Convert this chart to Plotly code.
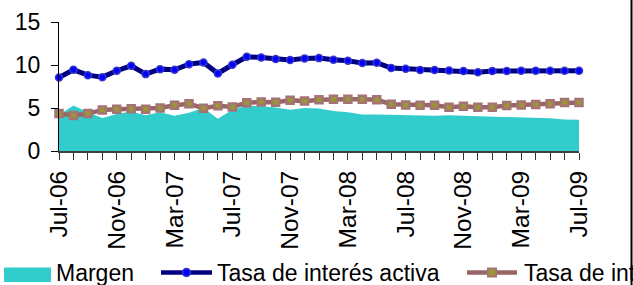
import plotly.graph_objects as go

months = ["Jul-06", "Aug-06", "Sep-06", "Oct-06", "Nov-06", "Dec-06",
          "Jan-07", "Feb-07", "Mar-07", "Apr-07", "May-07", "Jun-07",
          "Jul-07", "Aug-07", "Sep-07", "Oct-07", "Nov-07", "Dec-07",
          "Jan-08", "Feb-08", "Mar-08", "Apr-08", "May-08", "Jun-08",
          "Jul-08", "Aug-08", "Sep-08", "Oct-08", "Nov-08", "Dec-08",
          "Jan-09", "Feb-09", "Mar-09", "Apr-09", "May-09", "Jun-09",
          "Jul-09"]

margen = [4.2, 5.3, 4.5, 3.85, 4.3, 4.6, 4.15, 4.5, 4.1, 4.45, 5.0, 3.75,
          4.8, 5.25, 5.2, 5.05, 4.8, 5.0, 4.95, 4.65, 4.5, 4.25, 4.25, 4.2,
          4.2, 4.15, 4.1, 4.15, 4.1, 4.05, 4.0, 4.0, 3.97, 3.93, 3.8, 3.65, 3.62]

activa = [8.55, 9.44, 8.82, 8.59, 9.33, 9.91, 8.94, 9.52, 9.44, 10.1, 10.3, 9.02,
          10.03, 10.96, 10.88, 10.69, 10.57, 10.77, 10.8, 10.61, 10.49, 10.22, 10.26, 9.64,
          9.56, 9.41, 9.41, 9.37, 9.29, 9.17, 9.29, 9.29, 9.33, 9.33, 9.33, 9.33, 9.33]

pasiva = [4.35, 4.12, 4.35, 4.78, 4.86, 4.9, 4.86, 5.01, 5.32, 5.48, 4.97, 5.25,
          5.13, 5.6, 5.71, 5.67, 5.91, 5.8, 5.95, 6.02, 6.02, 6.02, 5.95, 5.44,
          5.36, 5.32, 5.32, 5.09, 5.21, 5.09, 5.09, 5.29, 5.36, 5.4, 5.48, 5.64, 5.64]

series_names = ["Margen", "Tasa de interés activa", "Tasa de interés pasiva"]
y_ticks = [0, 5, 10, 15]

x = list(range(len(months)))
tick_idx = x[::4]
tick_txt = [months[i] for i in tick_idx]

W, H = 633, 285
L, R, T, B = 59, 54, 22, 134
PW, PH = W - L - R, H - T - B

def px(X):
    return (X - L) / PW

def py(Y):
    return (H - B - Y) / PH

FONT = "Liberation Sans, Arial, sans-serif"
TEAL = "#33CCCC"
NAVY = "#000080"
BROWN = "#996666"

fig = go.Figure()
fig.add_trace(go.Scatter(x=x, y=margen, name=series_names[0], mode="lines",
                         fill="tozeroy", fillcolor=TEAL,
                         line=dict(width=0, color=TEAL), showlegend=False))
fig.add_trace(go.Scatter(x=x, y=activa, name=series_names[1], mode="lines+markers",
                         line=dict(color=NAVY, width=5),
                         marker=dict(symbol="circle", size=7, color="#0000FF",
                                     line=dict(color="#3838C8", width=1.5)),
                         cliponaxis=False, showlegend=False))
fig.add_trace(go.Scatter(x=x, y=pasiva, name=series_names[2], mode="lines+markers",
                         line=dict(color=BROWN, width=4.5),
                         marker=dict(symbol="square", size=7, color="#999933",
                                     line=dict(color="#A57373", width=2.5)),
                         cliponaxis=False, showlegend=False))

fig.update_xaxes(range=[0, len(months) - 1], tickmode="array",
                 tickvals=tick_idx, ticktext=tick_txt, tickangle=-90,
                 ticks="outside", ticklen=7, tickcolor="#333333", tickwidth=1,
                 minor=dict(dtick=1, tick0=0, ticks="outside", ticklen=7,
                            tickcolor="#333333", tickwidth=1),
                 showline=True, linecolor="#404040", linewidth=2,
                 showgrid=False, zeroline=False, automargin=False,
                 tickfont=dict(family=FONT, size=24.5, color="black"),
                 ticklabelstandoff=1)
fig.update_yaxes(range=[0, 15], tickmode="array", tickvals=y_ticks,
                 ticks="outside", ticklen=7, tickcolor="black", tickwidth=1,
                 showline=True, linecolor="black", linewidth=1,
                 showgrid=False, zeroline=False, automargin=False,
                 tickfont=dict(family=FONT, size=23, color="black"),
                 ticklabelstandoff=6)

shapes = []
annotations = []
# custom legend (clipped at right edge like the original)
shapes.append(dict(type="rect", xref="paper", yref="paper",
                   x0=px(4), x1=px(51), y0=py(282), y1=py(267.5),
                   fillcolor=TEAL, line=dict(width=0)))
shapes.append(dict(type="line", xref="paper", yref="paper",
                   x0=px(161), x1=px(212), y0=py(272.5), y1=py(272.5),
                   line=dict(color=NAVY, width=4.5)))
shapes.append(dict(type="circle", xref="paper", yref="paper",
                   x0=px(182.5), x1=px(190.5), y0=py(276.5), y1=py(268.5),
                   fillcolor="#0000FF", line=dict(color="#3838C8", width=1.5)))
shapes.append(dict(type="line", xref="paper", yref="paper",
                   x0=px(467), x1=px(517), y0=py(272.5), y1=py(272.5),
                   line=dict(color=BROWN, width=4.5)))
shapes.append(dict(type="rect", xref="paper", yref="paper",
                   x0=px(488), x1=px(496), y0=py(276.5), y1=py(268.5),
                   fillcolor="#999933", line=dict(color="#A57373", width=2)))
# right border of the chart
shapes.append(dict(type="line", xref="paper", yref="paper",
                   x0=px(631.5), x1=px(631.5), y0=py(0), y1=py(285),
                   line=dict(color="black", width=2)))

for name, X in zip(series_names, [55, 216, 523]):
    annotations.append(dict(text=name, xref="paper", yref="paper",
                            x=px(X), y=py(273), xanchor="left", yanchor="middle",
                            showarrow=False, borderpad=0,
                            font=dict(family=FONT, size=23, color="black")))

fig.update_layout(template="none", width=W, height=H, autosize=False,
                  margin=dict(l=L, r=R, t=T, b=B, pad=0),
                  paper_bgcolor="white", plot_bgcolor="white",
                  shapes=shapes, annotations=annotations, showlegend=False)

fig.write_html("out.html", config={"displayModeBar": False},
               post_script="document.body.style.margin='0';"
                           "document.body.style.overflow='hidden';")
